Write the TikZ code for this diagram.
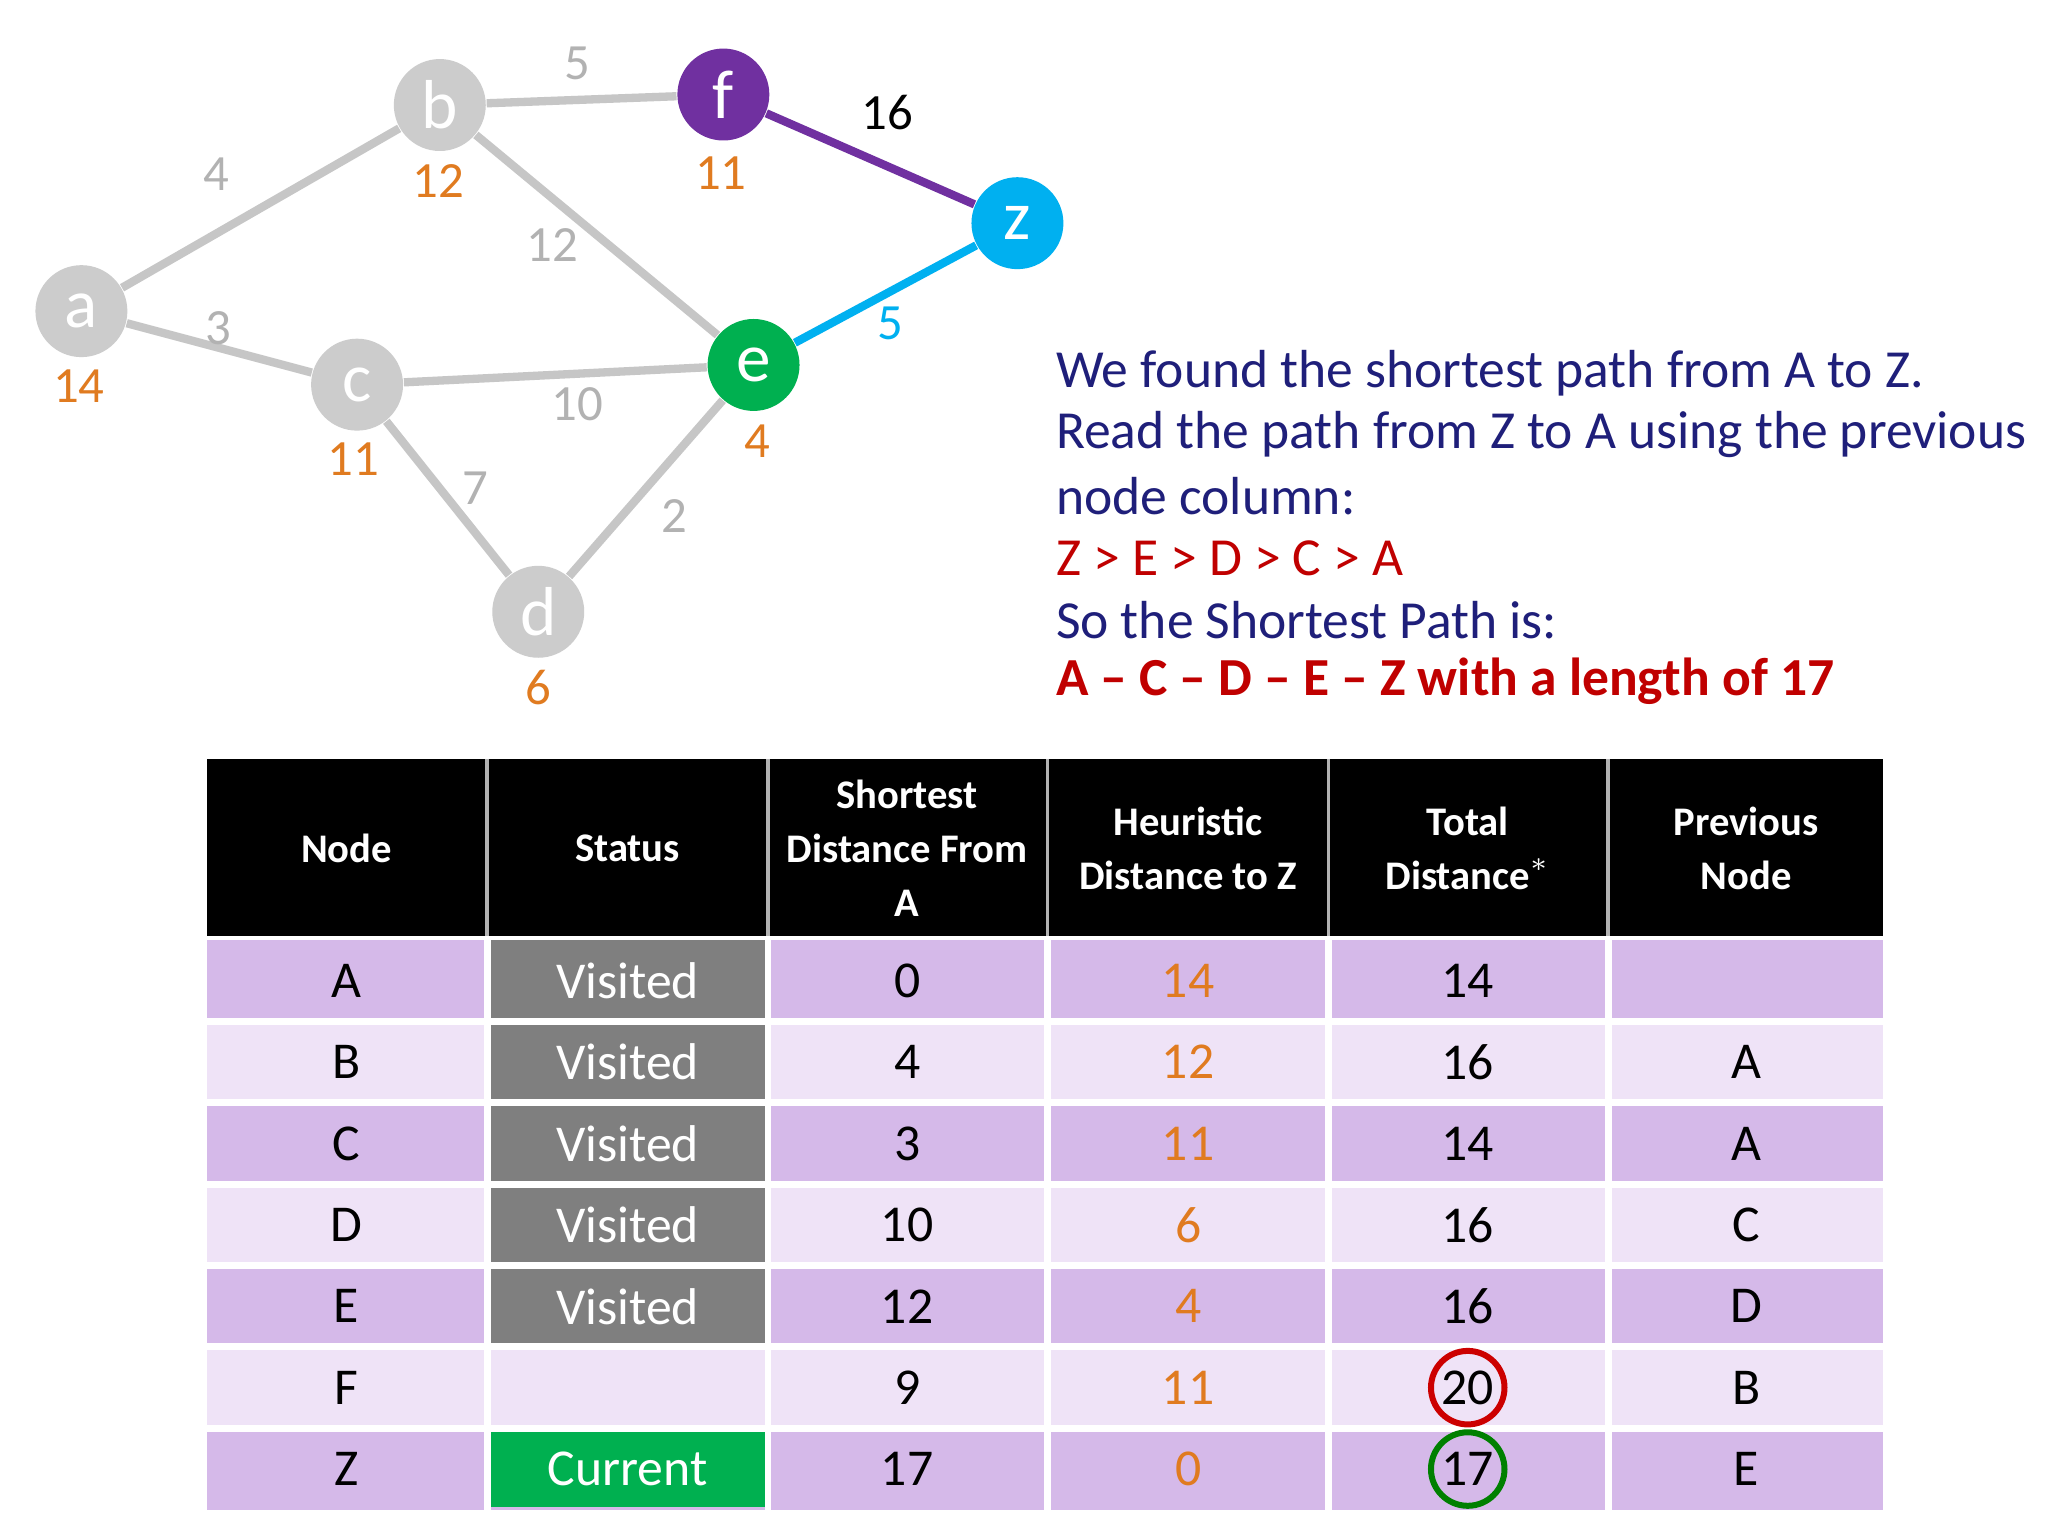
\documentclass[tikz,border=0pt]{standalone}
\usepackage{fontspec}
\setmainfont{Carlito}
\definecolor{rowA}{HTML}{D5B9E9}
\definecolor{rowB}{HTML}{EFE3F7}
\definecolor{fpur}{HTML}{7030A0}
\definecolor{zcy}{HTML}{00B0F0}
\definecolor{egr}{HTML}{00B050}
\definecolor{navy}{HTML}{1F1F7A}
\definecolor{dred}{HTML}{C00000}
\definecolor{org}{HTML}{E07B20}
\definecolor{vis}{HTML}{7F7F7F}
\begin{document}
\begin{tikzpicture}[x=0.01cm,y=-0.01cm,
 gn/.style={circle,minimum size=0.7cm,inner sep=0pt,text=white,font=\fontsize{15}{15}\selectfont},
 ed/.style={line width=1.8pt,draw=gray!45},
 wt/.style={text=gray!60,font=\fontsize{11}{11}\selectfont},
 hl/.style={text=org,font=\fontsize{11}{11}\selectfont},
 tx/.style={anchor=west,text=navy,font=\fontsize{11.6}{11.6}\selectfont},
 hd/.style={text=white,font=\bfseries\fontsize{8.8}{11.7}\selectfont,align=center},
 cl/.style={font=\fontsize{11.2}{11.2}\selectfont}]
\useasboundingbox (0,0) rectangle (1560,1170);
\fill[white] (0,0) rectangle (1560,1170);
\node[gn,fill=gray!40] (a) at (62,237) {a};
\node[gn,fill=gray!40] (b) at (335,80) {b};
\node[gn,fill=fpur] (f) at (551,72) {f};
\node[gn,fill=zcy] (z) at (775,170) {z};
\node[gn,fill=egr] (e) at (574,278) {e};
\node[gn,fill=gray!40] (c) at (272,293) {c};
\node[gn,fill=gray!40] (d) at (410,466) {d};
\draw[ed] (a)--(b); \draw[ed] (b)--(f); \draw[ed] (b)--(e); \draw[ed] (a)--(c);
\draw[ed] (c)--(e); \draw[ed] (c)--(d); \draw[ed] (d)--(e);
\draw[line width=1.8pt,fpur] (f)--(z);
\draw[line width=1.8pt,zcy] (e)--(z);
\node[wt] (w1) at (440,48) {5}; \node[wt] (w2) at (165,133) {4};
\node[wt] (w3) at (421,187) {12}; \node[wt] (w4) at (166,250) {3};
\node[wt] (w5) at (440,308) {10}; \node[wt] (w6) at (362,372) {7};
\node[wt] (w7) at (514,393) {2};
\node[font=\fontsize{11}{11}\selectfont] (w8) at (676,86) {16};
\node[text=zcy,font=\fontsize{11}{11}\selectfont] (w9) at (678,246) {5};
\node[hl] (h1) at (60,294) {14}; \node[hl] (h2) at (334,138) {12};
\node[hl] (h3) at (549,132) {11}; \node[hl] (h4) at (269,350) {11};
\node[hl] (h5) at (577,336) {4}; \node[hl] (h6) at (410,524) {6};
\node[tx] (t1) at (792,284) {We found the shortest path from A to Z.};
\node[tx] (t2) at (792,331) {Read the path from Z to A using the previous};
\node[tx] (t3) at (792,378) {node column:};
\node[tx,text=dred] (t4) at (792,425) {Z > E > D > C > A};
\node[tx] (t5) at (792,472) {So the Shortest Path is:};
\node[tx,text=dred,font=\bfseries\fontsize{11.6}{11.6}\selectfont] (t6) at (792,519) {A – C – D – E – Z with a length of 17};
% table
\fill[black] (158,578) rectangle (1434,713);
\foreach \x in {371,585,798,1012,1225} \draw[gray!60,line width=0.8pt] (\x,578)--(\x,713);
\node[hd] (H1) at (264,646) {Node};
\node[hd] (H2) at (478,646) {Status};
\node[hd] (H3) at (691,646) {Shortest\\Distance From\\A};
\node[hd] (H4) at (905,646) {Heuristic\\Distance to Z};
\node[hd] (H5) at (1118,646) {Total\\Distance$^{*}$};
\node[hd] (H6) at (1330,646) {Previous\\Node};
\foreach [count=\i] \n/\s/\sd/\h/\t/\p in {A/Visited/0/14/14/,B/Visited/4/12/16/A,C/Visited/3/11/14/A,D/Visited/10/6/16/C,E/Visited/12/4/16/D,F//9/11/20/B,Z/Current/17/0/17/E}{
 \pgfmathsetmacro\yt{716+(\i-1)*62}
 \pgfmathsetmacro\ym{\yt+31}
 \ifodd\i \def\rc{rowA} \else \def\rc{rowB}\fi
 \fill[\rc] (158,\yt) rectangle (1434,\yt+62);
 \ifnum\i<6 \fill[vis] (373,\yt) rectangle (583,\yt+60); \fi
 \ifnum\i=7 \fill[egr] (373,\yt) rectangle (583,\yt+60); \fi
 \node[cl] at (264,\ym) {\n};
 \node[cl,text=white] at (478,\ym) {\s};
 \node[cl] at (691,\ym) {\sd};
 \node[cl,text=org] at (905,\ym) {\h};
 \node[cl] at (1118,\ym) {\t};
 \node[cl] at (1330,\ym) {\p};
}
\foreach \y in {778,840,902,964,1026,1088} \draw[white,line width=1.5pt] (158,\y)--(1434,\y);
\foreach \x in {371,585,798,1012,1225} \draw[white,line width=1.5pt] (\x,716)--(\x,1150);
\draw[red!80!black,line width=1.3pt] (1118,1057) circle (28);
\draw[green!50!black,line width=1.3pt] (1118,1119) circle (28);
\end{tikzpicture}
\end{document}
